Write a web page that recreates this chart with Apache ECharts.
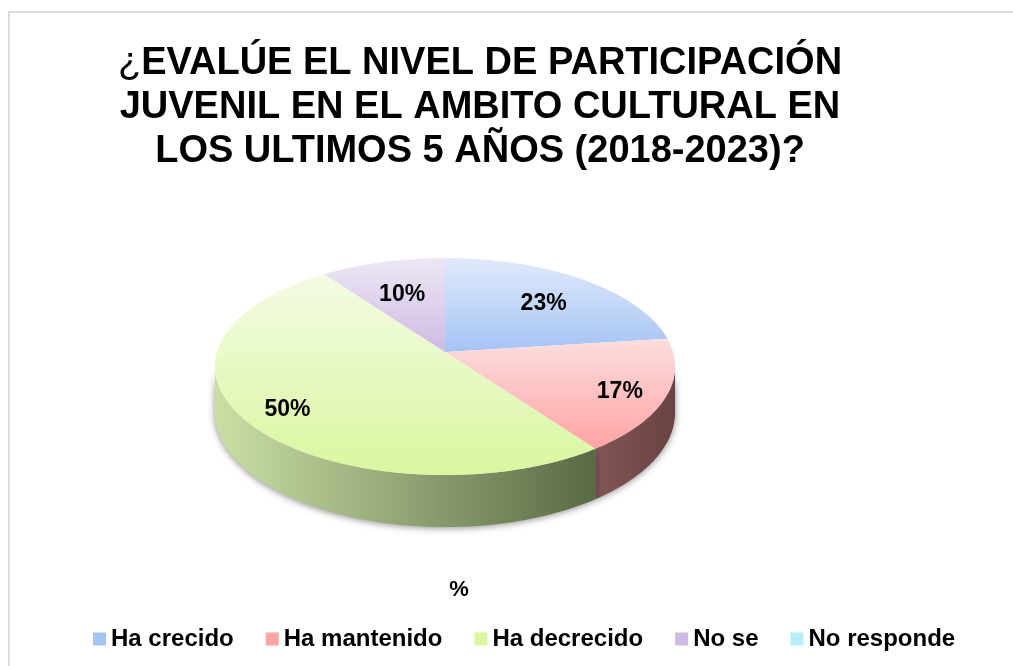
<!DOCTYPE html>
<html>
<head>
<meta charset="utf-8">
<style>html,body{margin:0;padding:0;background:#fff}#main{width:1013px;height:666px}</style>
<script src="https://cdn.jsdelivr.net/npm/echarts@6/dist/echarts.min.js"></script>
</head>
<body>
<div id="main"></div>
<script>
var categories = ['Ha crecido', 'Ha mantenido', 'Ha decrecido', 'No se', 'No responde'];
var values = [23, 17, 50, 10, 0];
var titleLines = ['EVALÚE EL NIVEL DE PARTICIPACIÓN', 'JUVENIL EN EL AMBITO CULTURAL EN', 'LOS ULTIMOS 5 AÑOS (2018-2023)?'];

// top colour / bottom colour of each slice, then the side wall
var topColors = [['#DFEAFB', '#A5C3F5'], ['#FDDEDE', '#FFA3A3'], ['#F3FBE4', '#DAF69F'], ['#EEE7F5', '#CDBBE3'], ['#B7EEFB', '#B7EEFB']];
var wallColors = [null, ['#835555', '#6A4242'], ['#CADFA5', '#5A6A45'], null, null];
var labelRadius = [0.7, 0.8, 0.8, 0.66, 0.7];

// pie is drawn tilted, so the circle goes through a small perspective
var cx = 445, cy = 352, A = 228, B = 106.6, k = 0.134, wallH = 45;
var FONT = '"Liberation Sans", Arial, sans-serif';
var total = values.reduce(function (a, b) { return a + b; }, 0);

function project(r, deg) {
    var a = deg * Math.PI / 180;
    var u = r * Math.sin(a), v = r * Math.cos(a), w = 1 + k * v;
    return [cx + A * u / w, cy - B * v / w, w];
}

function startAngle(i) {
    var s = 0;
    for (var j = 0; j < i; j++) s += values[j];
    return s / total * 360;
}

function arc(from, to) {
    var pts = [], n = Math.max(2, Math.ceil(to - from));
    for (var i = 0; i <= n; i++) pts.push(project(1, from + (to - from) * i / n));
    return pts;
}

function gradient(c, horizontal) {
    return new echarts.graphic.LinearGradient(0, 0, horizontal ? 1 : 0, horizontal ? 0 : 1, [
        { offset: 0, color: c[0] }, { offset: 1, color: c[1] }
    ]);
}

function makeRender(idx) {
    return function (params, api) {
        var value = api.value(0);
        if (!value) return { type: 'group', children: [] };
        var from = startAngle(idx), to = from + value / total * 360;
        var children = [];

        // side wall, only the part that faces the viewer
        var wf = Math.max(from, 97.7), wt = Math.min(to, 262.3);
        if (wt > wf && wallColors[idx]) {
            var rim = arc(wf, wt);
            var lower = rim.map(function (p) { return [p[0], p[1] + wallH / p[2]]; }).reverse();
            children.push({
                type: 'polygon', z2: 1,
                shape: { points: rim.map(function (p) { return [p[0], p[1]]; }).concat(lower) },
                style: { fill: gradient(wallColors[idx], true), shadowBlur: 7, shadowColor: 'rgba(0,0,0,0.45)', shadowOffsetY: 1 }
            });
        }

        var top = arc(from, to).map(function (p) { return [p[0], p[1]]; });
        top.push([cx, cy]);
        children.push({
            type: 'polygon', z2: 2,
            shape: { points: top },
            style: { fill: gradient(topColors[idx], false) }
        });

        var lp = project(labelRadius[idx], (from + to) / 2);
        children.push({
            type: 'text', z2: 3,
            style: {
                x: lp[0], y: lp[1] + 4, text: value + '%', fill: '#000',
                font: 'bold 23px ' + FONT, textAlign: 'center', textVerticalAlign: 'middle'
            }
        });
        return { type: 'group', children: children };
    };
}

var myChart = echarts.init(document.getElementById('main'));
var option = {
    animation: false,
    backgroundColor: '#fff',
    title: [{
        left: 480, top: 42, textAlign: 'center', padding: 0,
        text: '{a|¿}{b|' + titleLines[0] + '}\n{b|' + titleLines[1] + '}\n{b|' + titleLines[2] + '}',
        textStyle: {
            rich: {
                a: { fontFamily: FONT, fontWeight: 'normal', fontSize: 38, lineHeight: 44, color: '#000' },
                b: { fontFamily: FONT, fontWeight: 'bold', fontSize: 38, lineHeight: 44, color: '#000' }
            }
        }
    }, {
        left: 459, top: 579, textAlign: 'center', padding: 0, text: '%',
        textStyle: { fontFamily: FONT, fontWeight: 'bold', fontSize: 22, color: '#000' }
    }],
    legend: {
        left: 88, top: 622, itemWidth: 13, itemHeight: 13, itemGap: 32, icon: 'rect',
        data: categories,
        selectedMode: false,
        textStyle: { fontFamily: FONT, fontWeight: 'bold', fontSize: 24, color: '#000' }
    },
    graphic: [
        { type: 'line', shape: { x1: 9, y1: 12, x2: 9, y2: 666 }, style: { stroke: '#DDDDDD', lineWidth: 2 } },
        { type: 'line', shape: { x1: 8, y1: 12, x2: 1013, y2: 12 }, style: { stroke: '#DDDDDD', lineWidth: 2 } }
    ],
    series: categories.map(function (name, i) {
        return {
            name: name, type: 'custom', coordinateSystem: 'none',
            itemStyle: { color: topColors[i][1] },
            renderItem: makeRender(i),
            data: [values[i]]
        };
    })
};
myChart.setOption(option);
</script>
</body>
</html>
